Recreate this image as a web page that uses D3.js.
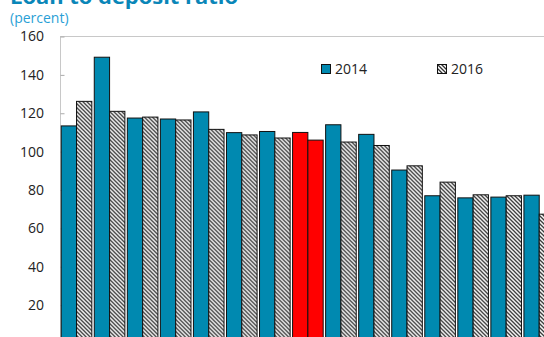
<!DOCTYPE html>
<html>
<head>
<meta charset="utf-8">
<script src="https://cdn.jsdelivr.net/npm/d3@7"></script>
<style>
  body { margin: 0; background: #fff; }
  svg { display: block; font-family: "Open Sans", "DejaVu Sans", sans-serif; }
</style>
</head>
<body>
<script>
// values (x labels are cut off in the reference)
var categories = ["c1", "c2", "c3", "c4", "c5", "c6", "c7", "c8", "c9", "c10", "c11", "c12", "c13", "c14", "c15"];
var values2014 = [113.4, 149.2, 117.5, 117.0, 120.7, 109.9, 110.5, 110.0, 114.0, 109.0, 90.4, 77.0, 75.9, 76.3, 77.3];
var values2016 = [126.2, 121.0, 118.0, 116.5, 111.6, 108.7, 107.1, 106.0, 105.0, 103.2, 92.6, 84.1, 77.5, 77.0, 67.4];
var highlight = "c8";
var yTicks = [20, 40, 60, 80, 100, 120, 140, 160];

window.onload = drawChart();

function drawChart(){
    var width = 544,
        height = 337;

    var blue = "#0089b0",
        red = "#ff0000";

    var svg = d3.select("body")
        .append("svg")
        .attr("width", width)
        .attr("height", height);

    //hatch pattern for the 2016 bars
    var defs = svg.append("defs");
    var pat = defs.append("pattern")
        .attr("id", "hatch")
        .attr("patternUnits", "userSpaceOnUse")
        .attr("width", 4)
        .attr("height", 4);
    pat.append("rect").attr("width", 4).attr("height", 4).attr("fill", "#fff");
    pat.append("path")
        .attr("d", "M-1,-1L5,5M-1,3L1,5M3,-1L5,1")
        .attr("stroke", "#333")
        .attr("stroke-width", 1.3);

    //plot area runs past the right and bottom edges, as in the reference
    var x0 = d3.scaleBand()
        .domain(categories)
        .range([60, 60 + 33.05 * categories.length])
        .paddingInner(0.074)
        .paddingOuter(0.037);

    var x1 = d3.scaleBand()
        .domain(["2014", "2016"])
        .range([0, x0.bandwidth()]);

    var y = d3.scaleLinear()
        .domain([0, 160])
        .range([343.5, 36.5]);

    //title, clipped by the top edge
    svg.append("text")
        .attr("x", 10)
        .attr("y", 3.5)
        .attr("fill", "#0a86b8")
        .attr("font-weight", "bold")
        .attr("font-size", 19)
        .attr("textLength", 228)
        .attr("lengthAdjust", "spacingAndGlyphs")
        .text("Loan to deposit ratio");

    svg.append("text")
        .attr("x", 10)
        .attr("y", 23)
        .attr("fill", "#2a9fd6")
        .attr("font-size", 14)
        .text("(percent)");

    //frame
    svg.append("rect")
        .attr("x", 60.5)
        .attr("y", 36.5)
        .attr("width", 600)
        .attr("height", 400)
        .attr("fill", "none")
        .attr("stroke", "#c8c8c8");

    //y axis with inward ticks
    var yAxis = d3.axisRight(y)
        .tickValues(yTicks)
        .tickSize(4)
        .tickFormat("");
    svg.append("g")
        .attr("transform", "translate(60.5,0)")
        .call(yAxis)
        .call(function(g){
            g.select(".domain").remove();
            g.selectAll("line").attr("stroke", "#aaa");
        });

    svg.append("g")
        .selectAll("text")
        .data(yTicks)
        .enter()
        .append("text")
        .attr("x", 44)
        .attr("y", function(d){ return y(d); })
        .attr("dy", "0.35em")
        .attr("text-anchor", "end")
        .attr("font-size", 14)
        .attr("fill", "#222")
        .text(function(d){ return d; });

    //bars
    var groups = svg.append("g")
        .selectAll("g")
        .data(categories)
        .enter()
        .append("g")
        .attr("transform", function(d){ return "translate(" + x0(d) + ",0)"; });

    groups.append("rect")
        .attr("x", x1("2014"))
        .attr("y", function(d, i){ return y(values2014[i]); })
        .attr("width", x1.bandwidth())
        .attr("height", function(d, i){ return y(0) - y(values2014[i]); })
        .attr("fill", function(d){ return d === highlight ? red : blue; })
        .attr("stroke", "#111")
        .attr("stroke-width", 1);

    groups.append("rect")
        .attr("x", x1("2016"))
        .attr("y", function(d, i){ return y(values2016[i]); })
        .attr("width", x1.bandwidth())
        .attr("height", function(d, i){ return y(0) - y(values2016[i]); })
        .attr("fill", function(d){ return d === highlight ? red : "url(#hatch)"; })
        .attr("stroke", "#111")
        .attr("stroke-width", 1);

    //legend
    var legend = [
        {label: "2014", fill: blue, x: 321},
        {label: "2016", fill: "url(#hatch)", x: 437}
    ];
    var lg = svg.append("g")
        .selectAll("g")
        .data(legend)
        .enter()
        .append("g")
        .attr("transform", function(d){ return "translate(" + d.x + ",64)"; });
    lg.append("rect")
        .attr("x", 0.5)
        .attr("y", 0.5)
        .attr("width", 9)
        .attr("height", 9)
        .attr("fill", function(d){ return d.fill; })
        .attr("stroke", "#111");
    lg.append("text")
        .attr("x", 14)
        .attr("y", 5)
        .attr("dy", "0.35em")
        .attr("font-size", 14)
        .attr("fill", "#222")
        .text(function(d){ return d.label; });
}
</script>
</body>
</html>
